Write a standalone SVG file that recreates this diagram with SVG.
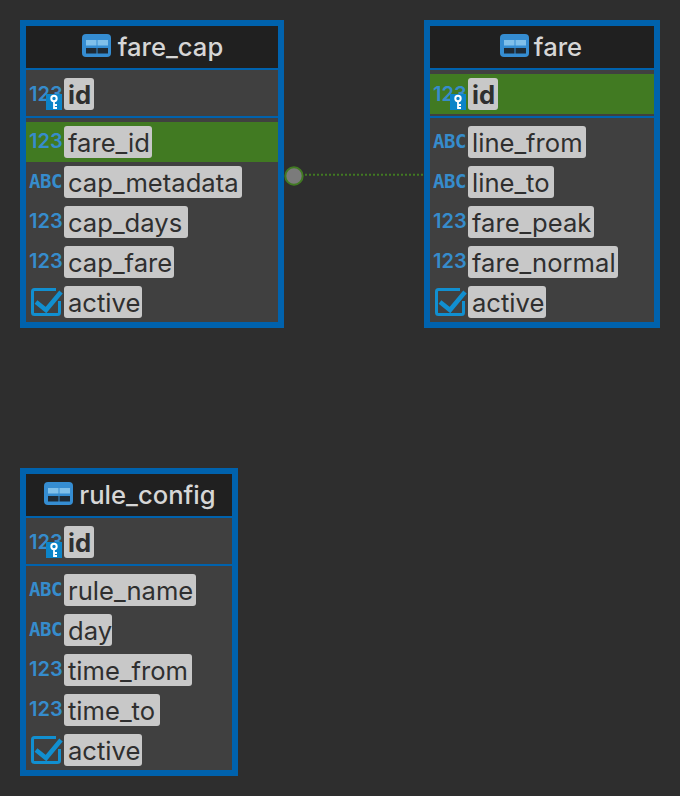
<svg xmlns="http://www.w3.org/2000/svg" width="680" height="796" viewBox="0 0 680 796">
<style>
.frame{fill:#404040;stroke:#0062ad;stroke-width:6}
.head{fill:#202020}
.rule{fill:#0062ad}
.green{fill:#417a22}
.title{font:500 25.6px Inter,"Liberation Sans",sans-serif;fill:#d6d6d6;text-anchor:middle}
.lab{fill:#c8c8c8}
.t{font:25.6px Inter,"Liberation Sans",sans-serif;fill:#2f2f2f}
.b{font-weight:700}
.num{font:600 20px Inter,"Liberation Sans",sans-serif;fill:#368ccc}
.abc{font:700 19px "DejaVu Sans Mono",monospace;fill:#368ccc;letter-spacing:-0.5px}
.chk{fill:none;stroke:#118fd0;stroke-width:3}
.tick{fill:none;stroke:#118fd0;stroke-width:4.500}
</style>
<defs>
<g id="tbl">
<rect width="29" height="23" rx="4" fill="#358dd2"/>
<rect x="4" y="6" width="10.500" height="5.500" fill="#80c0ea"/><rect x="15.500" y="6" width="10.500" height="5.500" fill="#80c0ea"/>
<rect x="4" y="14" width="10.500" height="5.500" fill="#1e2a35"/><rect x="15.500" y="14" width="10.500" height="5.500" fill="#1e2a35"/>
</g>
<g id="key">
<rect width="16" height="16" fill="#0c84c8"/>
<circle cx="8" cy="4.500" r="2.700" fill="none" stroke="#fff" stroke-width="2"/>
<path d="M8 7V15M8 11H11M8 14H11" fill="none" stroke="#fff" stroke-width="1.800"/>
</g>
<g id="check">
<path d="M25 1.500H3.500Q1.500 1.500 1.500 3.500V24.500Q1.500 26.500 3.500 26.500H26.500Q28.500 26.500 28.500 24.500V13" class="chk"/>
<path d="M5 14L15 22L30 4" class="tick"/>
</g>
</defs>
<rect width="680" height="796" fill="#2e2e2e"/>
<g id="connectors">
<path d="M305 174.700H424" stroke="#417a22" stroke-width="2" stroke-dasharray="2 2" fill="none"/>
<circle cx="294" cy="176" r="8.700" fill="#7b7b7b" stroke="#417a22" stroke-width="2"/>
</g>
<g id="fare_cap">
<rect class="frame" x="23" y="23" width="258" height="302"/>
<rect class="head" x="26" y="26" width="252" height="42"/>
<rect class="rule" x="26" y="68" width="252" height="2"/>
<rect class="rule" x="26" y="116" width="252" height="2"/>
<rect class="green" x="26" y="122" width="252" height="40"/>
<use href="#tbl" x="82" y="34"/>
<text class="title" x="170.500" y="56">fare_cap</text>
<text class="num" x="29" y="101">123</text>
<rect class="lab" x="64" y="78" width="30" height="32" rx="3"/><text class="t b" x="68" y="104">id</text>
<use href="#key" x="46" y="94"/>
<text class="num" x="29" y="148">123</text>
<rect class="lab" x="64" y="126" width="88" height="32" rx="3"/><text class="t" x="68" y="152">fare_id</text>
<text class="abc" x="29" y="188">ABC</text>
<rect class="lab" x="64" y="166" width="178" height="32" rx="3"/><text class="t" x="68" y="192">cap_metadata</text>
<text class="num" x="29" y="228">123</text>
<rect class="lab" x="64" y="206" width="124" height="32" rx="3"/><text class="t" x="68" y="232">cap_days</text>
<text class="num" x="29" y="268">123</text>
<rect class="lab" x="64" y="246" width="110" height="32" rx="3"/><text class="t" x="68" y="272">cap_fare</text>
<use href="#check" x="31" y="288"/>
<rect class="lab" x="64" y="286" width="78" height="32" rx="3"/><text class="t" x="68" y="312">active</text>
</g>
<g id="fare">
<rect class="frame" x="427" y="23" width="230" height="302"/>
<rect class="head" x="430" y="26" width="224" height="42"/>
<rect class="rule" x="430" y="68" width="224" height="2"/>
<rect class="rule" x="430" y="116" width="224" height="2"/>
<rect class="green" x="430" y="74" width="224" height="40"/>
<use href="#tbl" x="500" y="34"/>
<text class="title" x="558" y="56">fare</text>
<text class="num" x="433" y="101">123</text>
<rect class="lab" x="468" y="78" width="30" height="32" rx="3"/><text class="t b" x="472" y="104">id</text>
<use href="#key" x="450" y="94"/>
<text class="abc" x="433" y="148">ABC</text>
<rect class="lab" x="468" y="126" width="118" height="32" rx="3"/><text class="t" x="472" y="152">line_from</text>
<text class="abc" x="433" y="188">ABC</text>
<rect class="lab" x="468" y="166" width="86" height="32" rx="3"/><text class="t" x="472" y="192">line_to</text>
<text class="num" x="433" y="228">123</text>
<rect class="lab" x="468" y="206" width="126" height="32" rx="3"/><text class="t" x="472" y="232">fare_peak</text>
<text class="num" x="433" y="268">123</text>
<rect class="lab" x="468" y="246" width="150" height="32" rx="3"/><text class="t" x="472" y="272">fare_normal</text>
<use href="#check" x="435" y="288"/>
<rect class="lab" x="468" y="286" width="78" height="32" rx="3"/><text class="t" x="472" y="312">active</text>
</g>
<g id="rule_config">
<rect class="frame" x="23" y="471" width="212" height="302"/>
<rect class="head" x="26" y="474" width="206" height="42"/>
<rect class="rule" x="26" y="516" width="206" height="2"/>
<rect class="rule" x="26" y="564" width="206" height="2"/>
<use href="#tbl" x="44" y="482"/>
<text class="title" x="147.500" y="504">rule_config</text>
<text class="num" x="29" y="549">123</text>
<rect class="lab" x="64" y="526" width="30" height="32" rx="3"/><text class="t b" x="68" y="552">id</text>
<use href="#key" x="46" y="542"/>
<text class="abc" x="29" y="596">ABC</text>
<rect class="lab" x="64" y="574" width="132" height="32" rx="3"/><text class="t" x="68" y="600">rule_name</text>
<text class="abc" x="29" y="636">ABC</text>
<rect class="lab" x="64" y="614" width="48" height="32" rx="3"/><text class="t" x="68" y="640">day</text>
<text class="num" x="29" y="676">123</text>
<rect class="lab" x="64" y="654" width="128" height="32" rx="3"/><text class="t" x="68" y="680">time_from</text>
<text class="num" x="29" y="716">123</text>
<rect class="lab" x="64" y="694" width="96" height="32" rx="3"/><text class="t" x="68" y="720">time_to</text>
<use href="#check" x="31" y="736"/>
<rect class="lab" x="64" y="734" width="78" height="32" rx="3"/><text class="t" x="68" y="760">active</text>
</g>
</svg>
